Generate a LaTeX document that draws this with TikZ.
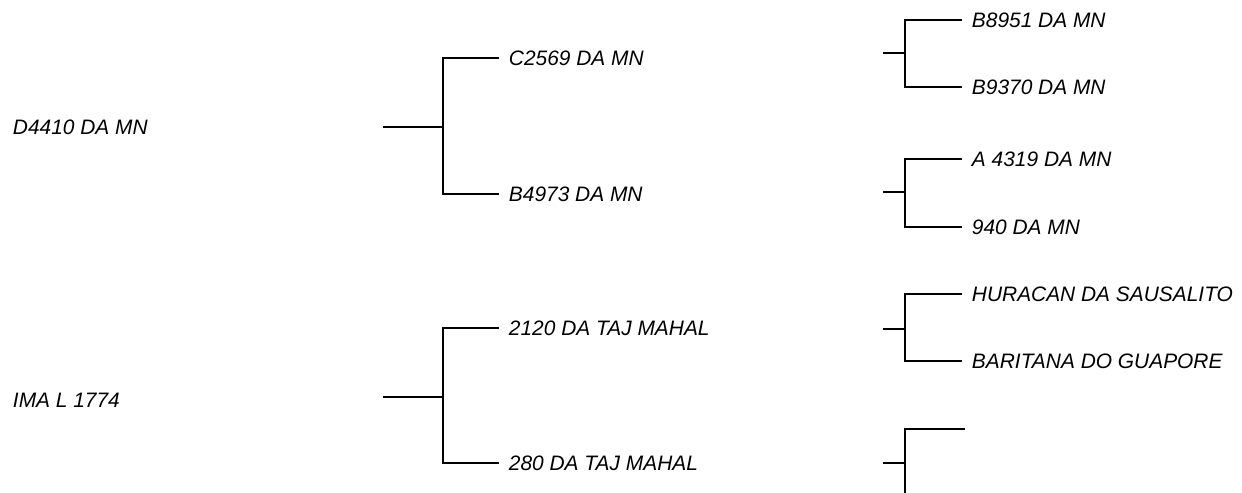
\documentclass[tikz,border=0pt]{standalone}
\usepackage{fontspec}
\setmainfont{Liberation Sans}
\begin{document}
\begin{tikzpicture}[x=0.02cm,y=-0.02cm,line width=1.1pt,
  horse/.style={anchor=west,inner xsep=0.18cm,inner ysep=0pt,font=\fontsize{11.9}{14}\selectfont\itshape}]
\useasboundingbox (0,0) rectangle (1242,493);
% first generation
\node[horse] (d4410) at (3,127) {D4410 DA MN};
\node[horse] (ima) at (3,400) {IMA L 1774};
% second generation
\node[horse] (c2569) at (499,58) {C2569 DA MN};
\node[horse] (b4973) at (499,194) {B4973 DA MN};
\node[horse] (tm2120) at (499,328) {2120 DA TAJ MAHAL};
\node[horse] (tm280) at (499,463) {280 DA TAJ MAHAL};
% third generation
\node[horse] (b8951) at (962,20) {B8951 DA MN};
\node[horse] (b9370) at (962,87) {B9370 DA MN};
\node[horse] (a4319) at (962,159) {A 4319 DA MN};
\node[horse] (mn940) at (962,227) {940 DA MN};
\node[horse] (huracan) at (962,294) {HURACAN DA SAUSALITO};
\node[horse] (baritana) at (962,361) {BARITANA DO GUAPORE};
\coordinate (blank) at (965,429);
\coordinate (cut) at (905,493);
% brackets
\coordinate (s1) at (383,127);
\coordinate (s2) at (383,397);
\coordinate (s3) at (883,53);
\coordinate (s4) at (883,192);
\coordinate (s5) at (883,329);
\coordinate (s6) at (883,463);
\draw (s1) -- ++(60,0) coordinate (k1);
\draw (c2569.west) -| (k1) |- (b4973.west);
\draw (s2) -- ++(60,0) coordinate (k2);
\draw (tm2120.west) -| (k2) |- (tm280.west);
\draw (s3) -- ++(22,0) coordinate (k3);
\draw (b8951.west) -| (k3) |- (b9370.west);
\draw (s4) -- ++(22,0) coordinate (k4);
\draw (a4319.west) -| (k4) |- (mn940.west);
\draw (s5) -- ++(22,0) coordinate (k5);
\draw (huracan.west) -| (k5) |- (baritana.west);
\draw (s6) -- ++(22,0) coordinate (k6);
\draw (blank) -| (k6) -- (cut);
\end{tikzpicture}
\end{document}
